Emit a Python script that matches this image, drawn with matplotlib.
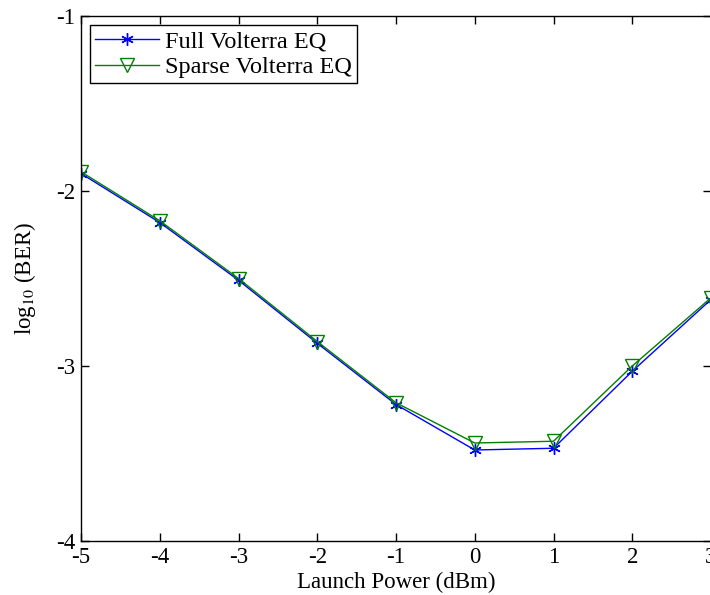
import matplotlib
matplotlib.use("Agg")
import matplotlib.pyplot as plt

launch_power = [-5, -4, -3, -2, -1, 0, 1, 2, 3]
full_volterra = [-1.90, -2.18, -2.51, -2.87, -3.22, -3.48, -3.47, -3.03, -2.62]
sparse_volterra = [-1.89, -2.17, -2.50, -2.86, -3.21, -3.44, -3.43, -3.00, -2.61]
x_ticks = [-5, -4, -3, -2, -1, 0, 1, 2, 3]
y_ticks = [-4, -3, -2, -1]

plt.rcParams['font.family'] = ['Liberation Serif', 'DejaVu Serif']
plt.rcParams['mathtext.fontset'] = 'stix'

W, H = 710, 595
fig = plt.figure(figsize=(W / 100, H / 100), dpi=100)
left = 81 / W
bottom = (H - 541) / H
top = 1 - 16 / H
right = 711 / W
ax = fig.add_axes([left, bottom, right - left, top - bottom])

ax.plot(launch_power, full_volterra, color='#0000ff', lw=1.0,
        marker=(6, 2, 0), markersize=9, markeredgewidth=1.0,
        label='Full Volterra EQ')
ax.plot(launch_power, sparse_volterra, color='#008000', lw=1.0,
        marker='v', markersize=10, markerfacecolor='none', markeredgewidth=1.0,
        label='Sparse Volterra EQ')

ax.set_xlim(-5, 3)
ax.set_ylim(-4, -1)
ax.set_xticks(x_ticks)
ax.set_yticks(y_ticks)
ax.set_xticklabels([str(v) for v in x_ticks])
ax.set_yticklabels([str(v) for v in y_ticks])
ax.tick_params(direction='in', top=True, right=True, labelsize=16.5, length=6, width=1, pad=4)
for s in ax.spines.values():
    s.set_linewidth(1.0)

ax.set_xlabel('Launch Power (dBm)', fontsize=16.5, labelpad=3)
ax.set_ylabel(r'log$_{10}$ (BER)', fontsize=16.5, labelpad=13)

leg = ax.legend(loc='upper left', fontsize=17.5, fancybox=False, edgecolor='black',
                framealpha=1, borderpad=0.22, handlelength=2.6, handletextpad=0.25,
                labelspacing=0.15, borderaxespad=0, bbox_to_anchor=(9 / 630, 1 - 9 / 525))
leg.get_frame().set_linewidth(1.0)

fig.savefig('out.png', dpi=100)
